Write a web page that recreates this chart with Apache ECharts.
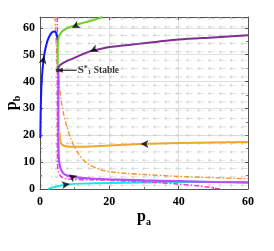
<!DOCTYPE html>
<html><head><meta charset="utf-8">
<script src="https://cdn.jsdelivr.net/npm/echarts@6/dist/echarts.min.js"></script>
<style>html,body{margin:0;padding:0;background:#fff}#c{width:274px;height:251px}</style>
</head><body><div id="c"></div>
<script>
// ---- data ----
const xTicks = [0, 20, 40, 60];
const yTicks = [0, 10, 20, 30, 40, 50, 60];
const fieldXs = [6.3, 9.5, 12.6, 15.8, 18.9, 22.1, 25.3, 28.4, 31.6, 34.7, 37.9, 41.1, 44.2, 47.4, 50.5, 53.7, 56.8, 60];
const fieldYs = [1.4, 4.5, 7.6, 10.7, 13.8, 16.9, 20.0, 23.1, 26.2, 29.3, 32.4, 35.5, 38.6, 41.7, 44.8, 47.9, 51.0, 54.1, 57.2, 60.3, 63.4];
const dotXs = [0.5, 3.4];
const blue = [[0.1,19],[0.15,25],[0.25,32],[0.4,38],[0.7,44],[1.1,49],[1.6,52.5],[2.2,55.3],[2.9,57.3],[3.6,58.4],[4.2,58.6],[4.6,58.1],[4.9,57],[5.1,55.5]];
const green = [[5.1,44.2],[5.1,48],[5.1,52],[5.2,55],[5.5,56.8],[6.2,58.4],[7.5,59.6],[9.1,60.5],[11,61.3],[13,62],[15.5,62.9],[17.6,63.8],[18,64]];
const purple = [[5.2,44.6],[5.6,45.8],[6.7,46.9],[8,47.8],[9.6,48.6],[12,50],[14.4,51.2],[17,52],[20.2,52.8],[24,53.4],[28.3,54],[34,54.8],[40,55.6],[50,56.4],[60,57.2]];
const violet = [[5.3,44],[5.3,30],[5.3,20],[5.35,14],[5.5,10.5],[5.9,7.8],[6.6,6],[7.8,5],[10,4.4],[14.4,3.9],[20,3.6],[30,3.2],[40,2.9],[50,2.6],[60,2.4]];
const magenta = [[5.0,64],[5.0,40],[5.0,20],[5.05,10],[5.3,6.5],[5.9,4.8],[7,4],[9,3.6],[14.4,3.4],[20,3.2],[28,2.8],[35,2.3],[40,1.8],[45.2,1.2],[48.5,0.7],[52,0]];
const orangeDash = [[4.3,64],[4.6,56],[5.0,47],[5.5,40],[6.1,33],[6.8,28],[7.7,23.5],[9.1,18],[11,13.3],[13.5,9.6],[17,7.4],[20.2,6.4],[25,5.8],[30,5.4],[38.4,4.8],[50,4.2],[60,3.8]];
const orange = [[5.7,21],[5.8,18.5],[6.2,16.7],[7.2,16],[9,15.7],[12.4,15.7],[20,16.2],[29,16.7],[40,17.1],[50,17.3],[60,17.5]];
const cyan = [[2.3,0],[3.5,0.5],[5,1],[6.5,1.4],[8.5,1.8],[12,2.0],[20,2.2],[30,2.4],[40,2.6],[50,2.6],[60,2.6]];
// arrowheads: [x, y, rotation deg]
const arrowHeads = [[1.2,49.5,-12],[9.2,59.9,118],[14.4,51.2,113],[29,16.7,90],[8.3,5.4,55],[8.6,1.85,-82]];
const stablePt = [5.1, 44.2];
const stableArrow = [[10.6, 44.2], [5.7, 44.2]];
const stableText = 'Stable';

// ---- build ----
const font = 'Liberation Serif';
const fieldPts = [];
fieldXs.forEach(x => fieldYs.forEach(y => fieldPts.push([x, y])));
const dotPts = [];
dotXs.forEach(x => fieldYs.forEach(y => dotPts.push([x, y])));
const arrowPath = 'path://M0,3 L3.5,0 L3.5,2.4 L10,2.4 L10,3.6 L3.5,3.6 L3.5,6 Z';

function line(data, color, width, type, z) {
  return {type: 'line', data, showSymbol: false, symbol: 'none', smooth: 0.3, z: z || 3,
    lineStyle: {color, width, type: type || 'solid'}, silent: true, animation: false};
}
const chart = echarts.init(document.getElementById('c'), null, {renderer: 'canvas'});
const axisCommon = {
  axisLine: {show: true, onZero: false, lineStyle: {color: '#555', width: 1}},
  axisTick: {show: true, inside: true, length: 3, lineStyle: {color: '#555'}},
  minorTick: {show: true, splitNumber: 2, length: 2, lineStyle: {color: '#777'}},
};
const nameRich = () => ({rich: {
  p: {fontFamily: font, fontWeight: 'bold', fontSize: 16, lineHeight: 20, color: '#000'},
  s: {fontFamily: font, fontWeight: 'bold', fontSize: 10, lineHeight: 10, verticalAlign: 'bottom', color: '#000', padding: [10,0,0,0]}}});
chart.setOption({
  animation: false,
  grid: {left: 40, right: 26, top: 17, bottom: 62, show: false, containLabel: false, outerBoundsMode: 'none'},
  xAxis: [{
    type: 'value', min: xTicks[0], max: xTicks[xTicks.length - 1], interval: 20, ...axisCommon,
    axisLabel: {fontFamily: font, fontWeight: 'bold', fontSize: 12, color: '#000', margin: 7},
    splitLine: {show: true, lineStyle: {color: '#e0e0e0', width: 1}},
    name: '{p|p}{s|a}', nameLocation: 'middle', nameGap: 18, nameMoveOverlap: false, nameTextStyle: nameRich()
  }, {
    type: 'value', position: 'top', min: 0, max: 60, interval: 20, ...axisCommon,
    axisLabel: {show: false}, splitLine: {show: false}
  }],
  yAxis: [{
    type: 'value', min: 0, max: 64, interval: 10, ...axisCommon,
    axisLabel: {fontFamily: font, fontWeight: 'bold', fontSize: 12, color: '#000', margin: 5, showMaxLabel: false,
      formatter: v => (yTicks.indexOf(v) >= 0 ? String(v) : '')},
    splitLine: {show: true, lineStyle: {color: '#e0e0e0', width: 1}},
    name: '{p|p}{s|b}', nameLocation: 'middle', nameGap: 18, nameRotate: 90, nameMoveOverlap: false, nameTextStyle: nameRich()
  }, {
    type: 'value', position: 'right', min: 0, max: 64, interval: 10, ...axisCommon,
    axisLabel: {show: false}, splitLine: {show: false}
  }],
  series: [
    {type: 'scatter', data: fieldPts, symbol: arrowPath, symbolSize: [7, 3.5], symbolOffset: [-4, 0],
     itemStyle: {color: '#cbcbcb'}, z: 1, silent: true},
    {type: 'scatter', data: dotPts, symbol: 'rect', symbolSize: [1, 2],
     itemStyle: {color: '#c0c0c0'}, z: 1, silent: true},
    line(cyan, '#19e6e6', 2, 'solid', 3),
    line(orangeDash, '#ff8c1a', 1.3, [5, 2, 1.5, 2], 3),
    line(magenta, '#ff33cc', 1.5, [5, 2, 1.5, 2], 4),
    line(violet, '#b44dff', 2.2, 'solid', 5),
    line(orange, '#f0a828', 2, 'solid', 5),
    line(blue, '#1414ff', 2, 'solid', 5),
    line(green, '#6ad326', 2, 'solid', 5),
    line(purple, '#7f2f92', 2, 'solid', 5),
    {type: 'scatter', z: 8, silent: true,
     data: arrowHeads.map(a => ({value: [a[0], a[1]], symbolRotate: a[2]})),
     symbol: 'arrow', symbolSize: [6, 8], itemStyle: {color: '#000'}},
    {type: 'line', z: 8, silent: true, data: stableArrow, showSymbol: false, symbol: 'none',
     lineStyle: {color: '#000', width: 1}},
    {type: 'scatter', z: 9, silent: true,
     data: [{value: stableArrow[1], symbolRotate: 90}], symbol: 'triangle', symbolSize: [5, 6], itemStyle: {color: '#000'}},
    {type: 'scatter', z: 9, silent: true, data: [stablePt], symbol: 'circle', symbolSize: 4, itemStyle: {color: '#222'}},
    {type: 'scatter', z: 9, silent: true, data: [stableArrow[0]], symbolSize: 0,
     label: {show: true, position: 'right', distance: 1, verticalAlign: 'middle',
       formatter: '{s|S}{sup|*}{sub|1}{t| ' + stableText + '}',
       rich: {
         s: {fontFamily: font, fontWeight: 'bold', fontSize: 11, color: '#000'},
         sup: {fontFamily: font, fontWeight: 'bold', fontSize: 8, verticalAlign: 'top', color: '#000'},
         sub: {fontFamily: font, fontWeight: 'bold', fontSize: 7, verticalAlign: 'bottom', color: '#000'},
         t: {fontFamily: font, fontWeight: 'bold', fontSize: 9.5, color: '#000'}
       }}}
  ]
});
</script></body></html>
